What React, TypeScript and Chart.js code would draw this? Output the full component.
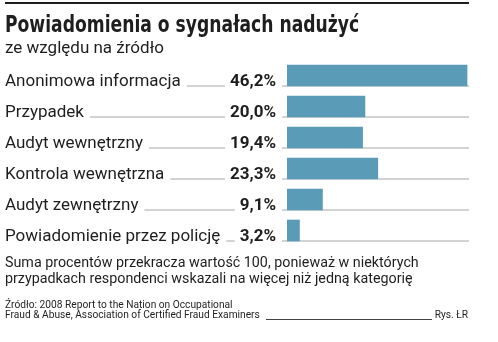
import React, { useEffect, useRef } from "react";
import { Chart, registerables } from "chart.js";

Chart.register(...registerables);

// Data
const categories = [
  "Anonimowa informacja",
  "Przypadek",
  "Audyt wewnętrzny",
  "Kontrola wewnętrzna",
  "Audyt zewnętrzny",
  "Powiadomienie przez policję",
];
const shares = [46.2, 20.0, 19.4, 23.3, 9.1, 3.2];

const title = "Powiadomienia o sygnałach nadużyć";
const subtitle = "ze względu na źródło";
const noteLines = [
  "Suma procentów przekracza wartość 100, ponieważ w niektórych",
  "przypadkach respondenci wskazali na więcej niż jedną kategorię",
];
const sourceLines = [
  "Źródło: 2008 Report to the Nation on Occupational",
  "Fraud & Abuse, Association of Certified Fraud Examiners",
];
const credit = "Rys. ŁR";

// Styles
const INK = "#1e1e1e";
const BAR = "#5a9cb8";
const RULE = "#c4c4c4";
const W = 498;
const H = 342;

const fmt = (v: number) => v.toFixed(1).replace(".", ",") + "%";

const rowsPlugin = {
  id: "rows",
  beforeDatasetsDraw(chart: any) {
    const ctx = chart.ctx as CanvasRenderingContext2D;
    const area = chart.chartArea;
    const meta = chart.getDatasetMeta(0);
    ctx.save();
    meta.data.forEach((bar: any, i: number) => {
      const { y, height } = bar.getProps(["y", "height"], true);
      const base = Math.round(y + height / 2);

      ctx.strokeStyle = RULE;
      ctx.lineWidth = 1.5;
      ctx.beginPath();
      ctx.moveTo(area.left - 5, base);
      ctx.lineTo(area.right, base);
      ctx.stroke();

      ctx.fillStyle = INK;
      ctx.textBaseline = "alphabetic";
      ctx.font = "400 17px Roboto";
      ctx.textAlign = "left";
      ctx.fillText(categories[i], 5, base);
      const labelEnd = 5 + ctx.measureText(categories[i]).width;

      const txt = fmt(shares[i]);
      ctx.font = "700 17px Roboto";
      ctx.textAlign = "right";
      const valueRight = area.left - 11;
      ctx.fillText(txt, valueRight, base);
      const valueStart = valueRight - ctx.measureText(txt).width;

      ctx.beginPath();
      ctx.moveTo(labelEnd + 6, base);
      ctx.lineTo(valueStart - 5, base);
      ctx.stroke();
    });
    ctx.restore();
  },
};

function Text(props: {
  x: number;
  baseline: number;
  size: number;
  weight?: number;
  family?: string;
  stretch?: number;
  children: React.ReactNode;
  right?: boolean;
}) {
  const { x, baseline, size, weight = 400, family = "Roboto", stretch, children, right } = props;
  const style: React.CSSProperties = {
    position: "absolute",
    top: baseline - 0.84 * size,
    fontFamily: family,
    fontSize: size,
    fontWeight: weight,
    lineHeight: `${size}px`,
    whiteSpace: "nowrap",
    color: INK,
  };
  if (stretch) {
    style.transform = `scaleX(${stretch})`;
    style.transformOrigin = "left center";
  }
  if (right) style.right = W - x;
  else style.left = x;
  return <div style={style}>{children}</div>;
}

export default function App() {
  const canvasRef = useRef<HTMLCanvasElement | null>(null);

  useEffect(() => {
    const canvas = canvasRef.current;
    if (!canvas) return;
    const chart = new Chart(canvas, {
      type: "bar",
      data: {
        labels: categories,
        datasets: [
          {
            data: shares,
            backgroundColor: BAR,
            borderWidth: 0,
            barThickness: 21,
          },
        ],
      },
      options: {
        indexAxis: "y",
        animation: false,
        responsive: false,
        maintainAspectRatio: false,
        events: [],
        layout: { padding: { left: 287, right: 29, top: 60, bottom: 96 } },
        scales: {
          x: { display: false, min: 0, max: 46.7 },
          y: { display: false },
        },
        plugins: {
          legend: { display: false },
          tooltip: { enabled: false },
        },
      },
      plugins: [rowsPlugin],
    });
    return () => chart.destroy();
  }, []);

  return (
    <div
      style={{
        position: "absolute",
        left: 0,
        top: 0,
        width: W,
        height: H,
        background: "#fff",
        overflow: "hidden",
      }}
    >
      <canvas
        ref={canvasRef}
        width={W}
        height={H}
        style={{ position: "absolute", left: 0, top: 0, width: W, height: H }}
      />
      <div
        style={{ position: "absolute", left: 5, top: 2, width: 464, height: 2, background: INK }}
      />
      <Text
        x={5}
        baseline={33}
        size={23.5}
        weight={700}
        stretch={0.812}
        family="'DejaVu Sans Condensed', 'DejaVu Sans', sans-serif"
      >
        {title}
      </Text>
      <Text x={5} baseline={53} size={17} weight={400}>
        {subtitle}
      </Text>
      <Text x={5} baseline={267} size={14.3} weight={400}>
        {noteLines[0]}
      </Text>
      <Text x={5} baseline={283.5} size={14.3} weight={400}>
        {noteLines[1]}
      </Text>
      <Text x={5} baseline={309} size={10.2} weight={400}>
        {sourceLines[0]}
      </Text>
      <Text x={5} baseline={318.5} size={10.2} weight={400}>
        {sourceLines[1]}
      </Text>
      <div
        style={{ position: "absolute", left: 266, top: 318.5, width: 166, height: 1, background: "#444" }}
      />
      <Text x={468} baseline={318.5} size={10.2} weight={400} right>
        {credit}
      </Text>
    </div>
  );
}
